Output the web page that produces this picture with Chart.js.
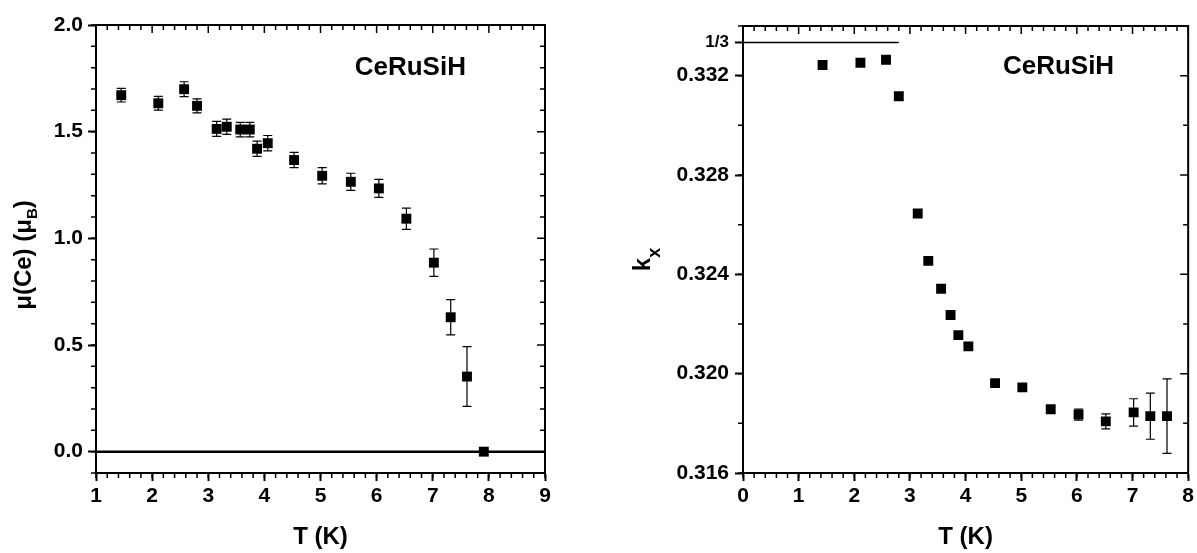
<!DOCTYPE html>
<html lang="en">
<head>
<meta charset="UTF-8">
<title>CeRuSiH</title>
<script src="https://cdn.jsdelivr.net/npm/chart.js"></script>
<style>
  body { margin: 0; background: #fff; width: 1197px; height: 553px; overflow: hidden; position: relative; }
  .panel { position: absolute; top: 0; }
  #left { left: 0; }
  #right { left: 600px; }
</style>
</head>
<body>
<div class="panel" id="left"><canvas id="momentChart" width="600" height="553"></canvas></div>
<div class="panel" id="right"><canvas id="kxChart" width="597" height="553"></canvas></div>
<script>
// left panel : ordered moment of Ce vs temperature
const momentT   = [1.45, 2.11, 2.57, 2.80, 3.15, 3.33, 3.57, 3.74, 3.87, 4.06, 4.53, 5.03, 5.54, 6.04, 6.53, 7.02, 7.32, 7.61, 7.91];
const momentVal = [1.671, 1.633, 1.699, 1.621, 1.513, 1.523, 1.510, 1.510, 1.420, 1.446, 1.367, 1.293, 1.265, 1.234, 1.092, 0.886, 0.630, 0.352, 0.0];
const momentErr = [0.032, 0.032, 0.035, 0.033, 0.035, 0.036, 0.034, 0.034, 0.036, 0.036, 0.036, 0.038, 0.040, 0.042, 0.050, 0.064, 0.083, 0.140, 0];
const momentXTicks = [1, 2, 3, 4, 5, 6, 7, 8, 9];
const momentYTicks = [0.0, 0.5, 1.0, 1.5, 2.0];
const zeroLineT = [1, 9];

// right panel : propagation vector component k_x vs temperature
const kxT   = [1.43, 2.11, 2.57, 2.80, 3.14, 3.33, 3.56, 3.73, 3.87, 4.05, 4.53, 5.02, 5.53, 6.03, 6.52, 7.02, 7.32, 7.62];
const kxVal = [0.33243, 0.33252, 0.33264, 0.33117, 0.32645, 0.32454, 0.32342, 0.32236, 0.32155, 0.32110, 0.31962, 0.31945, 0.31857, 0.31835, 0.31808, 0.31844, 0.31829, 0.31829];
const kxErr = [0, 0, 0, 0, 0, 0, 0, 0, 0, 0, 0, 0, 0, 0.00022, 0.0003, 0.00055, 0.00093, 0.0015];
const kxXTicks = [0, 1, 2, 3, 4, 5, 6, 7, 8];
const kxYTicks = [0.316, 0.320, 0.324, 0.328, 0.332, 1 / 3];
const thirdLineT = [0, 2.8];

const family = "'Liberation Sans', Arial, sans-serif";
const tickFont = { family: family, weight: 'bold', size: 21 };

// draws the closed frame, minor ticks, error bars and the texts
const framePlugin = {
    id: 'frame',
    beforeDatasetsDraw(chart, args, o) {
        const ctx = chart.ctx, xs = chart.scales.x, ys = chart.scales.y;
        ctx.save();
        ctx.strokeStyle = '#000';
        ctx.lineWidth = 1.2;
        o.t.forEach(function (t, i) {
            const e = o.err[i];
            if (!e) return;
            const px = xs.getPixelForValue(t);
            const y1 = ys.getPixelForValue(o.v[i] - e);
            const y2 = ys.getPixelForValue(o.v[i] + e);
            ctx.beginPath();
            ctx.moveTo(px, y1); ctx.lineTo(px, y2);
            ctx.moveTo(px - 4.5, y1); ctx.lineTo(px + 4.5, y1);
            ctx.moveTo(px - 4.5, y2); ctx.lineTo(px + 4.5, y2);
            ctx.stroke();
        });
        ctx.restore();
    },
    afterDraw(chart, args, o) {
        const ctx = chart.ctx, a = chart.chartArea, xs = chart.scales.x, ys = chart.scales.y;
        ctx.save();
        ctx.strokeStyle = '#000';
        ctx.lineWidth = 2;
        ctx.beginPath();
        ctx.moveTo(a.left, a.top); ctx.lineTo(a.right, a.top); ctx.lineTo(a.right, a.bottom);
        ctx.stroke();

        ctx.lineWidth = 1.5;
        ctx.beginPath();
        // x minor / top ticks
        for (let i = 0; ; i++) {
            const v = xs.min + i * o.xMinor;
            if (v > xs.max + 1e-9) break;
            const px = xs.getPixelForValue(v);
            const major = Math.abs(v - Math.round(v)) < 1e-6;
            ctx.moveTo(px, a.bottom); ctx.lineTo(px, a.bottom + 5);
            ctx.moveTo(px, a.top); ctx.lineTo(px, a.top + (major ? 8 : 5));
        }
        // y minor / right ticks
        for (let i = 0; ; i++) {
            const v = o.yStart + i * o.yMinor;
            if (v > ys.max + 1e-9) break;
            const py = ys.getPixelForValue(v);
            const k = (v - o.yMajorFrom) / o.yMajor;
            const major = Math.abs(k - Math.round(k)) < 1e-6;
            ctx.moveTo(a.left, py); ctx.lineTo(a.left - 5, py);
            ctx.moveTo(a.right, py); ctx.lineTo(a.right - (major ? 8 : 5), py);
        }
        ctx.stroke();

        ctx.fillStyle = '#000';
        // sample name
        ctx.font = 'bold 26px ' + family;
        ctx.textAlign = 'center';
        ctx.textBaseline = 'middle';
        ctx.fillText(o.note.text, xs.getPixelForValue(o.note.x), ys.getPixelForValue(o.note.y));

        // x title
        ctx.font = 'bold 24px ' + family;
        ctx.fillText('T (K)', (a.left + a.right) / 2, 537);

        // rotated y title with subscript
        ctx.translate(o.yTitle.x, (a.top + a.bottom) / 2 + o.yTitle.dy);
        ctx.rotate(-Math.PI / 2);
        ctx.textAlign = 'left';
        ctx.textBaseline = 'alphabetic';
        let w = 0;
        o.yTitle.parts.forEach(function (p) {
            ctx.font = 'bold ' + p.size + 'px ' + family;
            w += ctx.measureText(p.text).width;
        });
        let cx = -w / 2;
        o.yTitle.parts.forEach(function (p) {
            ctx.font = 'bold ' + p.size + 'px ' + family;
            ctx.fillText(p.text, cx, p.dy || 0);
            cx += ctx.measureText(p.text).width;
        });
        ctx.restore();
    }
};

function scatterSet(t, v) {
    return {
        type: 'scatter',
        data: t.map(function (x, i) { return { x: x, y: v[i] }; }),
        pointStyle: 'rect',
        pointRadius: 7,
        backgroundColor: '#000',
        borderColor: '#000',
        borderWidth: 0
    };
}

function lineSet(t, y, width) {
    return {
        type: 'line',
        data: t.map(function (x) { return { x: x, y: y }; }),
        borderColor: '#000',
        borderWidth: width,
        pointRadius: 0,
        fill: false
    };
}

function axes(xMin, xMax, xTicks, yMin, yMax, yTicks, yWidth, yLabel, yFont, yPad) {
    return {
        x: {
            type: 'linear', min: xMin, max: xMax,
            afterBuildTicks: function (s) { s.ticks = xTicks.map(function (v) { return { value: v }; }); },
            afterFit: function (s) { s.height = 80; },
            grid: { drawOnChartArea: false, tickLength: 8, tickWidth: 2, tickColor: '#000' },
            border: { display: true, color: '#000', width: 2 },
            ticks: { color: '#000', font: tickFont, padding: 3, maxRotation: 0, autoSkip: false }
        },
        y: {
            type: 'linear', min: yMin, max: yMax,
            afterBuildTicks: function (s) { s.ticks = yTicks.map(function (v) { return { value: v }; }); },
            afterFit: function (s) { s.width = yWidth; },
            grid: { drawOnChartArea: false, tickLength: 8, tickWidth: 2, tickColor: '#000' },
            border: { display: true, color: '#000', width: 2 },
            ticks: { color: '#000', font: yFont, padding: yPad, autoSkip: false, callback: yLabel }
        }
    };
}

new Chart(document.getElementById('momentChart'), {
    data: { datasets: [lineSet(zeroLineT, 0, 2.5), scatterSet(momentT, momentVal)] },
    options: {
        responsive: false, animation: false, events: [],
        layout: { padding: { top: 25, right: 55, left: 0, bottom: 0 } },
        plugins: {
            legend: { display: false }, tooltip: { enabled: false },
            frame: {
                t: momentT, v: momentVal, err: momentErr,
                xMinor: 0.2, yMinor: 0.1, yStart: -0.1, yMajor: 0.5, yMajorFrom: 0,
                note: { text: 'CeRuSiH', x: 6.6, y: 1.80 },
                yTitle: { x: 31, dy: 6, parts: [
                    { text: 'μ(Ce) (μ', size: 24 },
                    { text: 'B', size: 15, dy: 6 },
                    { text: ')', size: 24 }
                ] }
            }
        },
        scales: axes(1, 9, momentXTicks, -0.1, 2.0, momentYTicks, 96,
            function (v) { return v.toFixed(1); }, tickFont, 5)
    },
    plugins: [framePlugin]
});

new Chart(document.getElementById('kxChart'), {
    data: { datasets: [lineSet(thirdLineT, 1 / 3, 1.5), scatterSet(kxT, kxVal)] },
    options: {
        responsive: false, animation: false, events: [],
        layout: { padding: { top: 26, right: 7, left: 0, bottom: 0 } },
        plugins: {
            legend: { display: false }, tooltip: { enabled: false },
            frame: {
                t: kxT, v: kxVal, err: kxErr,
                xMinor: 0.2, yMinor: 0.002, yStart: 0.316, yMajor: 0.004, yMajorFrom: 0.316,
                note: { text: 'CeRuSiH', x: 5.67, y: 0.33235 },
                yTitle: { x: 50, dy: 10, parts: [
                    { text: 'k', size: 24 },
                    { text: 'x', size: 18, dy: 10 }
                ] }
            }
        },
        scales: axes(0, 8, kxXTicks, 0.316, 0.334, kxYTicks, 143,
            function (v) { return Math.abs(v - 1 / 3) < 1e-9 ? '1/3' : v.toFixed(3); },
            function (c) { return (c.tick && Math.abs(c.tick.value - 1 / 3) < 1e-9) ? { family: family, weight: 'bold', size: 17 } : tickFont; },
            6)
    },
    plugins: [framePlugin]
});
</script>
</body>
</html>
